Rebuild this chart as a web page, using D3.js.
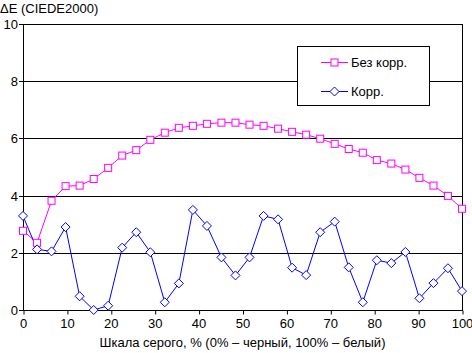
<!DOCTYPE html>
<html>
<head>
<meta charset="utf-8">
<script src="https://cdn.jsdelivr.net/npm/d3@7"></script>
<style>
  body { margin: 0; background: #fff; }
  text { font-family: "Liberation Sans", Arial, sans-serif; font-size: 13px; fill: #000; }
</style>
</head>
<body>
<svg id="chart" width="472" height="353"></svg>
<script>
// grey scale steps, %
const grayLevels = [0, 3.2, 6.5, 9.7, 12.9, 16.1, 19.4, 22.6, 25.8, 29.0, 32.3, 35.5, 38.7, 41.9, 45.2, 48.4,
  51.6, 54.8, 58.1, 61.3, 64.5, 67.7, 71.0, 74.2, 77.4, 80.6, 83.9, 87.1, 90.3, 93.5, 96.8, 100]

// dE without correction
const uncorrected = [2.77, 2.35, 3.82, 4.33, 4.35, 4.58, 4.97, 5.40, 5.59, 5.95, 6.20, 6.37, 6.44, 6.51, 6.55, 6.55,
  6.48, 6.44, 6.34, 6.23, 6.13, 5.99, 5.81, 5.63, 5.50, 5.24, 5.12, 4.91, 4.62, 4.35, 3.99, 3.54]

// dE with correction
const corrected = [3.29, 2.12, 2.05, 2.90, 0.48, 0.0, 0.15, 2.18, 2.72, 2.02, 0.27, 0.93, 3.50, 2.94, 1.84, 1.21,
  1.84, 3.29, 3.17, 1.48, 1.22, 2.72, 3.09, 1.49, 0.27, 1.74, 1.64, 2.03, 0.41, 0.94, 1.46, 0.66]

const xTicks = d3.range(0, 101, 10)
const yTicks = d3.range(0, 11, 2)
const seriesNames = ['Без корр.', 'Корр.']

const svg = d3.select('#chart')
const plotLeft = 23, plotRight = 462, plotTop = 24, plotBottom = 310

const x = d3.scaleLinear().domain([0, 100]).range([plotLeft, plotRight])
const y = d3.scaleLinear().domain([0, 10]).range([plotBottom, plotTop])

// Gridlines
svg.append('g')
    .selectAll('line')
    .data(yTicks)
    .enter()
    .append('line')
    .attr('x1', plotLeft - 4)
    .attr('x2', plotRight)
    .attr('y1', d => Math.round(y(d)) + 0.5)
    .attr('y2', d => Math.round(y(d)) + 0.5)
    .attr('stroke', '#000')

// Y axis line and right border
svg.append('line')
    .attr('x1', plotLeft + 0.5).attr('x2', plotLeft + 0.5)
    .attr('y1', plotTop).attr('y2', plotBottom + 1)
    .attr('stroke', '#000')
svg.append('line')
    .attr('x1', plotRight + 0.5).attr('x2', plotRight + 0.5)
    .attr('y1', plotTop).attr('y2', plotBottom + 1)
    .attr('stroke', '#000')

// X axis
const xAxis = svg.append('g')
    .attr('transform', `translate(0,${plotBottom + 0.5})`)
    .call(d3.axisBottom(x).tickValues(xTicks).tickSize(4).tickSizeOuter(0).tickPadding(4))
xAxis.select('.domain').remove()
xAxis.selectAll('line').attr('stroke', '#000').attr('transform', 'translate(0.5,0)')
xAxis.selectAll('text').style('font-size', '13px').attr('font-family', null)

// Y tick labels
svg.append('g')
    .selectAll('text')
    .data(yTicks)
    .enter()
    .append('text')
    .attr('x', plotLeft - 5)
    .attr('y', d => y(d) + 5)
    .attr('text-anchor', 'end')
    .text(d => d)

// Titles
svg.append('text')
    .attr('x', 0)
    .attr('y', 13)
    .text('ΔE (CIEDE2000)')

svg.append('text')
    .attr('x', (plotLeft + plotRight) / 2)
    .attr('y', 347)
    .attr('text-anchor', 'middle')
    .text('Шкала серого, % (0% – черный, 100% – белый)')

// Lines
const line = vals => d3.line()
    .x((d, i) => x(grayLevels[i]))
    .y(d => y(d))(vals)

svg.append('path')
    .attr('d', line(uncorrected))
    .attr('fill', 'none')
    .attr('stroke', '#ff00ff')

svg.append('path')
    .attr('d', line(corrected))
    .attr('fill', 'none')
    .attr('stroke', '#0000ff')

const squareAt = (sel, cx, cy) => sel.append('rect')
    .attr('x', cx - 3.5).attr('y', cy - 3.5)
    .attr('width', 7).attr('height', 7)
    .attr('fill', '#fff').attr('stroke', '#ff00ff')

const diamondAt = (sel, cx, cy) => sel.append('path')
    .attr('d', `M${cx},${cy - 4.5}L${cx + 4.5},${cy}L${cx},${cy + 4.5}L${cx - 4.5},${cy}Z`)
    .attr('fill', '#fff').attr('stroke', '#0000ff')

const markers = svg.append('g')
uncorrected.forEach((d, i) => squareAt(markers, x(grayLevels[i]), y(d)))
corrected.forEach((d, i) => diamondAt(markers, x(grayLevels[i]), y(d)))

// Legend
const legend = svg.append('g')
legend.append('rect')
    .attr('x', 297.5).attr('y', 46.5)
    .attr('width', 132).attr('height', 59)
    .attr('fill', '#fff').attr('stroke', '#000')

const legendY = [62, 91]
const legendColors = ['#ff00ff', '#0000ff']
seriesNames.forEach((name, i) => {
    legend.append('line')
        .attr('x1', 321).attr('x2', 348)
        .attr('y1', legendY[i] + 0.5).attr('y2', legendY[i] + 0.5)
        .attr('stroke', legendColors[i])
    if (i === 0) squareAt(legend, 334.5, legendY[i] + 0.5)
    else diamondAt(legend, 334.5, legendY[i] + 0.5)
    legend.append('text')
        .attr('x', 351)
        .attr('y', legendY[i] + 5)
        .text(name)
})
</script>
</body>
</html>
